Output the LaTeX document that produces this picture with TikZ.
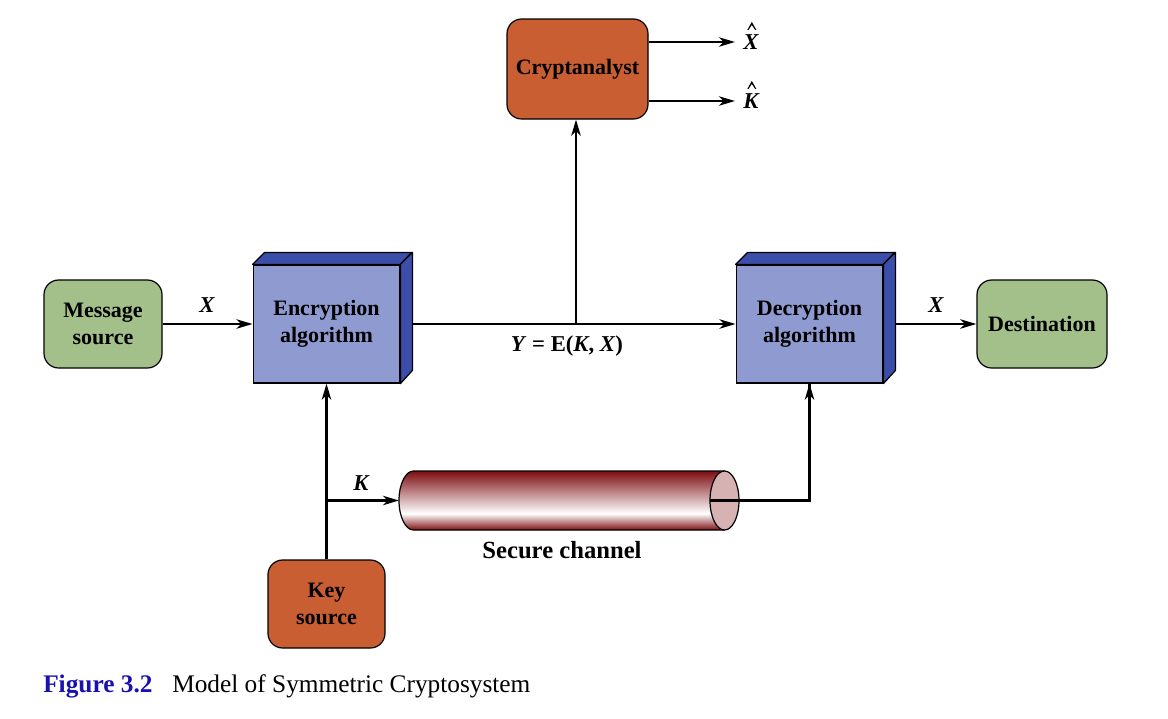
\documentclass[tikz,border=0pt]{standalone}
\usepackage{fontspec}
\setmainfont{Liberation Serif}
\usetikzlibrary{arrows.meta,calc}
\definecolor{grn}{HTML}{A3C08A}
\definecolor{org}{HTML}{C85E32}
\definecolor{bfront}{HTML}{8F9AD0}
\definecolor{bside}{HTML}{3B4FAA}
\definecolor{dred}{HTML}{7E0E12}
\definecolor{capc}{HTML}{D6B2B2}
\definecolor{figblue}{HTML}{1A10B0}
\pgfdeclareverticalshading{cylshade}{100bp}{color(0bp)=(dred); color(25bp)=(dred); color(39bp)=(white); color(75bp)=(dred); color(100bp)=(dred)}
\tikzset{
  boxtext/.style={font=\fontsize{16.5}{20}\selectfont\bfseries, align=center},
  roundbox/.style={boxtext, draw=black, line width=0.9pt, rounded corners=11pt, inner sep=0pt},
  greenbox/.style={roundbox, fill=grn, minimum height=66pt},
  orangebox/.style={roundbox, fill=org},
  frontbox/.style={boxtext, draw=black, line width=0.9pt, fill=bfront, minimum width=110pt, minimum height=88.5pt, inner sep=0pt},
  sideface/.style={fill=bside, draw=black, line width=0.9pt, line join=round},
  conn/.style={line width=2pt, -{Stealth[length=12pt,width=7pt,inset=3.5pt]}},
  plain/.style={line width=2pt},
  lbl/.style={font=\fontsize{17}{20}\selectfont\bfseries\itshape, inner sep=0pt},
  hatmark/.style={fill=black}
}
\begin{document}
\begin{tikzpicture}[x=0.75pt,y=-0.75pt]
\useasboundingbox (0,0) rectangle (1168,718);

% nodes
\node[greenbox, minimum width=88.5pt] (msg) at (103,324) {Message\\source};
\node[greenbox, minimum width=97.5pt] (dest) at (1042,324) {Destination};
\node[orangebox, minimum width=105.75pt, minimum height=75pt] (crypt) at (577.5,69) {Cryptanalyst};
\node[orangebox, minimum width=87.75pt, minimum height=66pt] (key) at (326.5,604) {Key\\source};

\node[frontbox] (enc) at (326.5,324) {Encryption\\algorithm};
\fill[sideface] (enc.north west) -- ++(12,-12) -- ++(147,0) -- (enc.north east) -- cycle;
\fill[sideface] (enc.north east) -- ++(12,-12) -- ++(0,118) -- (enc.south east) -- cycle;

\node[frontbox] (dec) at (809.5,324) {Decryption\\algorithm};
\fill[sideface] (dec.north west) -- ++(12,-12) -- ++(147,0) -- (dec.north east) -- cycle;
\fill[sideface] (dec.north east) -- ++(12,-12) -- ++(0,118) -- (dec.south east) -- cycle;

% secure channel cylinder
\shade[shading=cylshade] (724.5,471) -- (413.5,471)
  arc[start angle=90, end angle=270, x radius=10.875pt, y radius=22.125pt]
  -- (724.5,530)
  arc[start angle=-90, end angle=90, x radius=10.875pt, y radius=22.125pt] -- cycle;
\draw[line width=0.9pt] (724.5,471) -- (413.5,471)
  arc[start angle=90, end angle=270, x radius=10.875pt, y radius=22.125pt]
  -- (724.5,530);
\draw[line width=0.9pt, fill=capc] (724.5,500.5) ellipse [x radius=10.875pt, y radius=22.125pt];
\coordinate (chanin) at (399,500.5);
\coordinate (chanout) at (710,500.5);
\node[font=\fontsize{18.5}{20}\selectfont\bfseries] (chlbl) at (562,550) {Secure channel};

% labels
\node[lbl] (x1) at (207,305) {X};
\node[lbl] (x2) at (936,305) {X};
\node[lbl] (klbl) at (361,483) {K};
\node[font=\fontsize{17}{20}\selectfont\bfseries, inner sep=0pt] (yl) at (567,346) {\textit{Y} = E(\textit{K}, \textit{X})};
\node[lbl, anchor=base west] (xh) at (743,49) {X};
\node[lbl, anchor=base west] (kh) at (743,108) {K};
\foreach \n in {xh,kh}{
  \fill[hatmark] ($(\n.north)+(-3.5,-4)$) -- ($(\n.north)+(1,-12)$) -- ($(\n.north)+(5.5,-4)$)
    -- ($(\n.north)+(4.3,-4)$) -- ($(\n.north)+(1,-9)$) -- ($(\n.north)+(-2.3,-4)$) -- cycle;
}

% connectors
\draw[conn] (msg.east) -- (enc.west);
\coordinate (encout) at ($(enc.east)+(12,0)$);
\coordinate (decout) at ($(dec.east)+(12,0)$);
\draw[conn] (encout) -- (dec.west);
\coordinate (tap) at (576,324);
\draw[conn] (tap) -- (tap |- crypt.south);
\coordinate (xhin) at (735,42);
\coordinate (khin) at (735,101);
\draw[conn] (crypt.east |- xhin) -- (xhin);
\draw[conn] (crypt.east |- khin) -- (khin);
\draw[conn] (decout) -- (dest.west);
\draw[conn] (key.north) -- (enc.south);
\coordinate (kb) at (326.5,500.5);
\draw[conn] (kb) -- (chanin);
\draw[plain] (chanout) -| (dec.south);
\draw[conn] (dec.south |- chanout) -- (dec.south);

% caption
\node[anchor=base west, inner sep=0pt, text=figblue, font=\fontsize{19}{22}\selectfont\bfseries] (fig) at (43,692) {Figure 3.2};
\node[anchor=base west, inner sep=0pt, font=\fontsize{19}{22}\selectfont] (cap) at (172,692) {Model of Symmetric Cryptosystem};
\end{tikzpicture}
\end{document}
